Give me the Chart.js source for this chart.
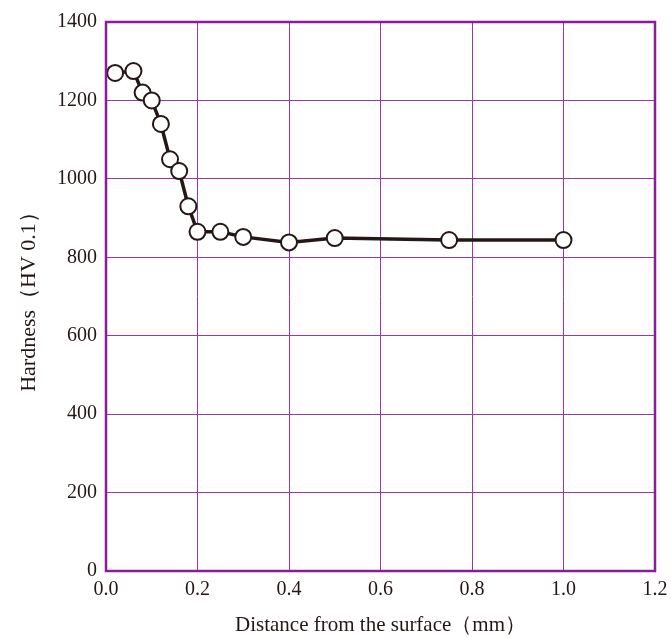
<!DOCTYPE html>
<html>
<head>
<meta charset="utf-8">
<script src="https://cdn.jsdelivr.net/npm/chart.js@4"></script>
<style>
  html, body { margin: 0; padding: 0; background: #fff; }
  #wrap { width: 671px; height: 638px; }
</style>
</head>
<body>
<div id="wrap"><canvas id="hardness-chart" width="671" height="638"></canvas></div>
<script>
// Hardness profile
const distances = [0.02, 0.06, 0.08, 0.10, 0.12, 0.14, 0.16, 0.18, 0.20, 0.25, 0.30, 0.40, 0.50, 0.75, 1.00];
const hardness  = [1270, 1275, 1220, 1200, 1140, 1050, 1020, 930, 865, 865, 852, 838, 849, 844, 844];
const xTicks = [0, 0.2, 0.4, 0.6, 0.8, 1.0, 1.2];
const yTicks = [0, 200, 400, 600, 800, 1000, 1200, 1400];

const frameColor = "#8a1c98";
const gridColor = "#9c35ad";
const inkColor = "#231815";
const serif = "'Liberation Serif', 'DejaVu Serif', serif";

// draw the heavier purple frame round the plot area
const framePlugin = {
  id: "frame",
  afterDraw(chart) {
    const a = chart.chartArea;
    const ctx = chart.ctx;
    ctx.save();
    ctx.strokeStyle = frameColor;
    ctx.lineWidth = 2.5;
    ctx.strokeRect(a.left, a.top, a.right - a.left, a.bottom - a.top);
    ctx.restore();
  }
};

const ctx = document.getElementById("hardness-chart").getContext("2d");

new Chart(ctx, {
  type: "line",
  data: {
    datasets: [{
      data: distances.map((d, i) => ({ x: d, y: hardness[i] })),
      borderColor: inkColor,
      borderWidth: 3.5,
      pointRadius: 8,
      pointBorderWidth: 2,
      pointBackgroundColor: "#ffffff",
      pointBorderColor: inkColor,
      tension: 0
    }]
  },
  options: {
    responsive: false,
    animation: false,
    layout: { padding: { top: 22, right: 16, left: 16, bottom: 0 } },
    plugins: {
      legend: { display: false },
      tooltip: { enabled: false }
    },
    scales: {
      x: {
        type: "linear",
        min: 0,
        max: 1.2,
        afterBuildTicks: axis => { axis.ticks = xTicks.map(v => ({ value: v })); },
        afterFit: axis => {
          axis.height = 67;
          // labels at the ends may overhang, the padding above leaves room
          axis.paddingLeft = 0;
          axis.paddingRight = 0;
        },
        ticks: {
          color: inkColor,
          font: { family: serif, size: 20 },
          padding: 7,
          callback: v => v.toFixed(1)
        },
        grid: { color: gridColor, lineWidth: 1, drawTicks: false },
        border: { display: false },
        title: {
          display: true,
          text: "Distance from the surface（mm）",
          color: inkColor,
          font: { family: serif, size: 21 },
          padding: { top: 7, bottom: 0 }
        }
      },
      y: {
        type: "linear",
        min: 0,
        max: 1400,
        afterBuildTicks: axis => { axis.ticks = yTicks.map(v => ({ value: v })); },
        afterFit: axis => { axis.width = 90; },
        ticks: {
          color: inkColor,
          font: { family: serif, size: 20 },
          padding: 9,
          callback: v => String(v)
        },
        grid: { color: gridColor, lineWidth: 1, drawTicks: false },
        border: { display: false },
        title: {
          display: true,
          text: "Hardness（HV 0.1）",
          color: inkColor,
          font: { family: serif, size: 22 },
          padding: { top: 0, bottom: 0 }
        }
      }
    }
  },
  plugins: [framePlugin]
});
</script>
</body>
</html>
